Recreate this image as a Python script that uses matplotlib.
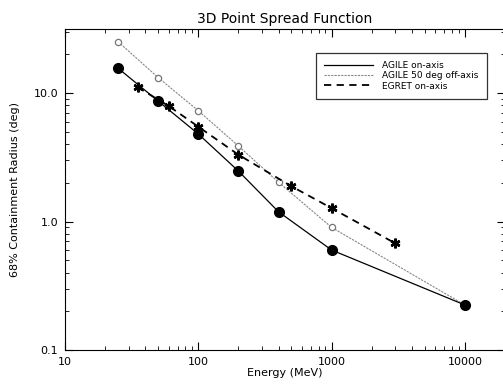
import matplotlib
matplotlib.use("Agg")
import matplotlib.pyplot as plt
from matplotlib.ticker import FixedLocator, LogLocator, NullFormatter

# energies in MeV, radii in degrees
agile_on_energy = [25, 50, 100, 200, 400, 1000, 10000]
agile_on_radius = [15.6, 8.66, 4.80, 2.47, 1.19, 0.60, 0.224]

agile_off_energy = [25, 50, 100, 200, 400, 1000, 10000]
agile_off_radius = [25.1, 13.2, 7.28, 3.87, 2.02, 0.90, 0.224]

egret_energy = [35, 60, 100, 200, 500, 1000, 3000]
egret_radius = [11.1, 7.92, 5.47, 3.31, 1.88, 1.27, 0.677]

x_ticks = [10, 100, 1000, 10000]
x_tick_labels = ["10", "100", "1000", "10000"]
y_ticks = [0.1, 1.0, 10.0]
y_tick_labels = ["0.1", "1.0", "10.0"]


def main() -> None:
    plt.rcParams["font.family"] = ["DejaVu Sans"]
    fig = plt.figure(figsize=(5.03, 3.89), dpi=100)
    ax = fig.add_axes([65 / 503, 1 - 350 / 389, 440 / 503, 321 / 389])

    ax.plot(agile_on_energy, agile_on_radius, color="black", lw=0.9,
            marker="o", ms=7, mfc="black", mec="black", zorder=4,
            label="AGILE on-axis")
    ax.plot(agile_off_energy, agile_off_radius, color="#888888", lw=0.8,
            ls=(0, (2, 1)), marker="o", ms=4.5, mfc="white", mec="#777777",
            mew=0.9, zorder=2, label="AGILE 50 deg off-axis")
    ax.plot(egret_energy, egret_radius, color="black", lw=1.3,
            ls=(0, (4, 3)), marker=(6, 2, 0), ms=7, mew=1.8, mec="black",
            zorder=3, label="EGRET on-axis")

    ax.set_xscale("log")
    ax.set_yscale("log")
    ax.set_xlim(10, 20000)
    ax.set_ylim(0.1, 31.5)

    ax.xaxis.set_major_locator(FixedLocator(x_ticks))
    ax.set_xticklabels(x_tick_labels)
    ax.yaxis.set_major_locator(FixedLocator(y_ticks))
    ax.set_yticklabels(y_tick_labels)
    for axis in (ax.xaxis, ax.yaxis):
        axis.set_minor_locator(LogLocator(base=10, subs=range(2, 10)))
        axis.set_minor_formatter(NullFormatter())

    ax.tick_params(which="both", direction="in", top=True, right=True,
                   labelsize=8, pad=5)
    ax.tick_params(which="major", length=6, width=0.8)
    ax.tick_params(which="minor", length=3, width=0.6)
    for s in ax.spines.values():
        s.set_linewidth(0.8)

    ax.set_title("3D Point Spread Function", fontsize=10, pad=4)
    ax.set_xlabel("Energy (MeV)", fontsize=8, labelpad=1)
    ax.set_ylabel("68% Containment Radius (deg)", fontsize=8, labelpad=10)

    leg = ax.legend(loc="upper right", bbox_to_anchor=(0.959, 0.926),
                    fontsize=6.5, handlelength=5.4, handletextpad=1.1,
                    frameon=True, fancybox=False, edgecolor="black",
                    borderpad=0.9, labelspacing=0.15, borderaxespad=0)
    leg.get_frame().set_linewidth(0.9)
    for h in leg.legend_handles:
        h.set_marker("")

    fig.savefig("out.png", dpi=100)
    plt.close(fig)


if __name__ == "__main__":
    main()
